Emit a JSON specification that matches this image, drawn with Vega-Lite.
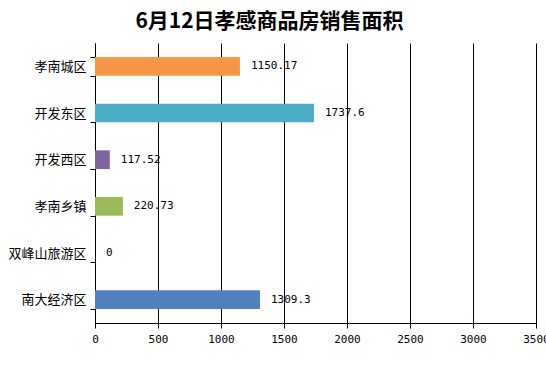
{
  "$schema": "https://vega.github.io/schema/vega-lite/v6.json",
  "autosize": "none",
  "width": 441,
  "height": 280,
  "padding": {"left": 95, "top": 43, "right": 10, "bottom": 46},
  "background": "white",
  "title": {
    "text": "6月12日孝感商品房销售面积",
    "font": "Noto Sans CJK SC",
    "fontSize": 21,
    "fontWeight": "bold",
    "color": "black",
    "anchor": "middle",
    "offset": 5,
    "dx": -46
  },
  "data": {
    "values": [
      {"区域": "孝南城区", "面积": 1150.17, "标签": "1150.17"},
      {"区域": "开发东区", "面积": 1737.6, "标签": "1737.6"},
      {"区域": "开发西区", "面积": 117.52, "标签": "117.52"},
      {"区域": "孝南乡镇", "面积": 220.73, "标签": "220.73"},
      {"区域": "双峰山旅游区", "面积": 0, "标签": "0"},
      {"区域": "南大经济区", "面积": 1309.3, "标签": "1309.3"}
    ]
  },
  "encoding": {
    "y": {
      "field": "区域",
      "type": "nominal",
      "sort": null,
      "title": null,
      "scale": {"paddingInner": 0.6, "paddingOuter": 0.3},
      "axis": {
        "tickBand": "extent",
        "domainColor": "black",
        "tickColor": "black",
        "tickSize": 5,
        "labelFont": "Noto Sans CJK SC",
        "labelFontSize": 13,
        "labelColor": "black",
        "labelPadding": 4,
        "grid": false
      }
    },
    "x": {
      "field": "面积",
      "type": "quantitative",
      "title": null,
      "scale": {"domain": [0, 3500], "nice": false},
      "axis": {
        "values": [0, 500, 1000, 1500, 2000, 2500, 3000, 3500],
        "format": "d",
        "grid": true,
        "gridColor": "black",
        "gridOpacity": 1,
        "domainColor": "black",
        "tickColor": "black",
        "tickSize": 5,
        "labelFont": "DejaVu Sans Mono",
        "labelFontSize": 11,
        "labelColor": "black",
        "labelPadding": 5,
        "labelFlush": false
      }
    }
  },
  "layer": [
    {
      "mark": {"type": "bar"},
      "encoding": {
        "color": {
          "field": "区域",
          "type": "nominal",
          "legend": null,
          "scale": {
            "domain": ["孝南城区", "开发东区", "开发西区", "孝南乡镇", "双峰山旅游区", "南大经济区"],
            "range": ["#F79646", "#4BACC6", "#8064A2", "#9BBB59", "#C0504D", "#4F81BD"]
          }
        }
      }
    },
    {
      "mark": {"type": "text", "align": "left", "baseline": "middle", "dx": 11, "font": "DejaVu Sans Mono", "fontSize": 11, "color": "black"},
      "encoding": {"text": {"field": "标签"}}
    }
  ],
  "config": {"view": {"stroke": null}}
}
